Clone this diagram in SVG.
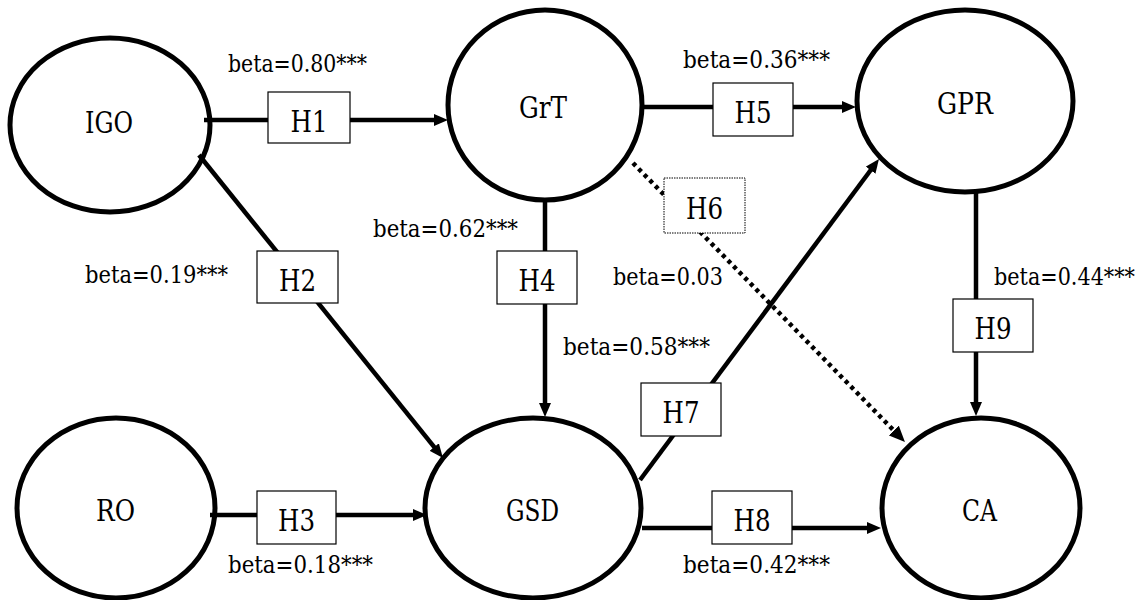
<svg xmlns="http://www.w3.org/2000/svg" width="1146" height="600" viewBox="0 0 1146 600">
<style>
.node{fill:none;stroke:#000;stroke-width:5}
.nl{font-family:'DejaVu Serif','Liberation Serif',serif;font-size:30px;fill:#000;text-anchor:middle}
.ln{fill:none;stroke:#000;stroke-width:4.5}
.dot{fill:none;stroke:#000;stroke-width:4.5;stroke-dasharray:4 4}
.box{fill:#fff;stroke:#000;stroke-width:1.2}
.boxd{fill:#fff;stroke:#000;stroke-width:1;stroke-dasharray:1.5 1}
.bl{font-family:'DejaVu Serif','Liberation Serif',serif;font-size:29px;fill:#000;text-anchor:middle}
.beta{font-family:'DejaVu Serif','Liberation Serif',serif;font-size:24px;fill:#000}
</style>
<defs>
<marker id="arr" markerUnits="userSpaceOnUse" markerWidth="14" markerHeight="12" refX="4" refY="6" orient="auto">
<path d="M0,0 L14,6 L0,12 z" fill="#000"/>
</marker>
<marker id="arrL" markerUnits="userSpaceOnUse" markerWidth="16" markerHeight="14" refX="4" refY="7" orient="auto">
<path d="M0,0 L16,7 L0,14 z" fill="#000"/>
</marker>
</defs>
<rect width="1146" height="600" fill="#fff"/>
<g id="connectors">
<line class="ln" x1="204" y1="120" x2="438" y2="120" marker-end="url(#arr)"/>
<line class="ln" x1="199" y1="155" x2="436.7" y2="450.2" marker-end="url(#arr)"/>
<line class="ln" x1="210" y1="515" x2="417" y2="515" marker-end="url(#arr)"/>
<line class="ln" x1="545" y1="200" x2="545" y2="407" marker-end="url(#arr)"/>
<line class="ln" x1="642" y1="107" x2="846" y2="107" marker-end="url(#arr)"/>
<line class="dot" x1="633" y1="163" x2="896.6" y2="433.4" marker-end="url(#arrL)"/>
<line class="ln" x1="640" y1="480" x2="873" y2="167" marker-end="url(#arr)"/>
<line class="ln" x1="642" y1="528" x2="871" y2="528" marker-end="url(#arr)"/>
<line class="ln" x1="976" y1="192" x2="976" y2="406" marker-end="url(#arr)"/>
</g>
<g id="node-IGO"><ellipse class="node" cx="110" cy="125" rx="100" ry="87"/><text class="nl" x="109" y="133" textLength="48" lengthAdjust="spacingAndGlyphs">IGO</text></g>
<g id="node-GrT"><ellipse class="node" cx="545" cy="105" rx="97" ry="95"/><text class="nl" x="543" y="118" textLength="48" lengthAdjust="spacingAndGlyphs">GrT</text></g>
<g id="node-GPR"><ellipse class="node" cx="965" cy="101" rx="108" ry="91"/><text class="nl" x="965" y="114" textLength="56" lengthAdjust="spacingAndGlyphs">GPR</text></g>
<g id="node-RO"><ellipse class="node" cx="116" cy="508" rx="99" ry="90"/><text class="nl" x="115.5" y="521" textLength="39" lengthAdjust="spacingAndGlyphs">RO</text></g>
<g id="node-GSD"><ellipse class="node" cx="533" cy="508" rx="108" ry="90"/><text class="nl" x="532.5" y="521" textLength="53" lengthAdjust="spacingAndGlyphs">GSD</text></g>
<g id="node-CA"><ellipse class="node" cx="981" cy="508" rx="99" ry="90"/><text class="nl" x="979.5" y="521" textLength="35" lengthAdjust="spacingAndGlyphs">CA</text></g>
<g id="hypotheses">
<rect class="box" x="268" y="92" width="82" height="51"/><text class="bl" x="309" y="132" textLength="37" lengthAdjust="spacingAndGlyphs">H1</text>
<rect class="box" x="257" y="251" width="81" height="52"/><text class="bl" x="297.5" y="291" textLength="37" lengthAdjust="spacingAndGlyphs">H2</text>
<rect class="box" x="257" y="491" width="79" height="53"/><text class="bl" x="296.5" y="531" textLength="37" lengthAdjust="spacingAndGlyphs">H3</text>
<rect class="box" x="497" y="251" width="80" height="53"/><text class="bl" x="537" y="291" textLength="37" lengthAdjust="spacingAndGlyphs">H4</text>
<rect class="box" x="713" y="83" width="80" height="53"/><text class="bl" x="753" y="123" textLength="37" lengthAdjust="spacingAndGlyphs">H5</text>
<rect class="boxd" x="664" y="178" width="81" height="55"/><text class="bl" x="704.5" y="219" textLength="37" lengthAdjust="spacingAndGlyphs">H6</text>
<rect class="box" x="641" y="383" width="80" height="53"/><text class="bl" x="681" y="423" textLength="37" lengthAdjust="spacingAndGlyphs">H7</text>
<rect class="box" x="712" y="491" width="80" height="53"/><text class="bl" x="752" y="531" textLength="37" lengthAdjust="spacingAndGlyphs">H8</text>
<rect class="box" x="953" y="299" width="80" height="53"/><text class="bl" x="993" y="339" textLength="37" lengthAdjust="spacingAndGlyphs">H9</text>
</g>
<g id="betas">
<text class="beta" x="228" y="72" textLength="139" lengthAdjust="spacingAndGlyphs">beta=0.80***</text>
<text class="beta" x="683" y="68" textLength="147" lengthAdjust="spacingAndGlyphs">beta=0.36***</text>
<text class="beta" x="85" y="283" textLength="143" lengthAdjust="spacingAndGlyphs">beta=0.19***</text>
<text class="beta" x="373" y="237" textLength="145" lengthAdjust="spacingAndGlyphs">beta=0.62***</text>
<text class="beta" x="613" y="285" textLength="110" lengthAdjust="spacingAndGlyphs">beta=0.03</text>
<text class="beta" x="563" y="355" textLength="147" lengthAdjust="spacingAndGlyphs">beta=0.58***</text>
<text class="beta" x="994" y="285" font-size="21" textLength="141" lengthAdjust="spacingAndGlyphs">beta=0.44***</text>
<text class="beta" x="228" y="573" textLength="145" lengthAdjust="spacingAndGlyphs">beta=0.18***</text>
<text class="beta" x="683" y="573" textLength="147" lengthAdjust="spacingAndGlyphs">beta=0.42***</text>
</g>
</svg>
